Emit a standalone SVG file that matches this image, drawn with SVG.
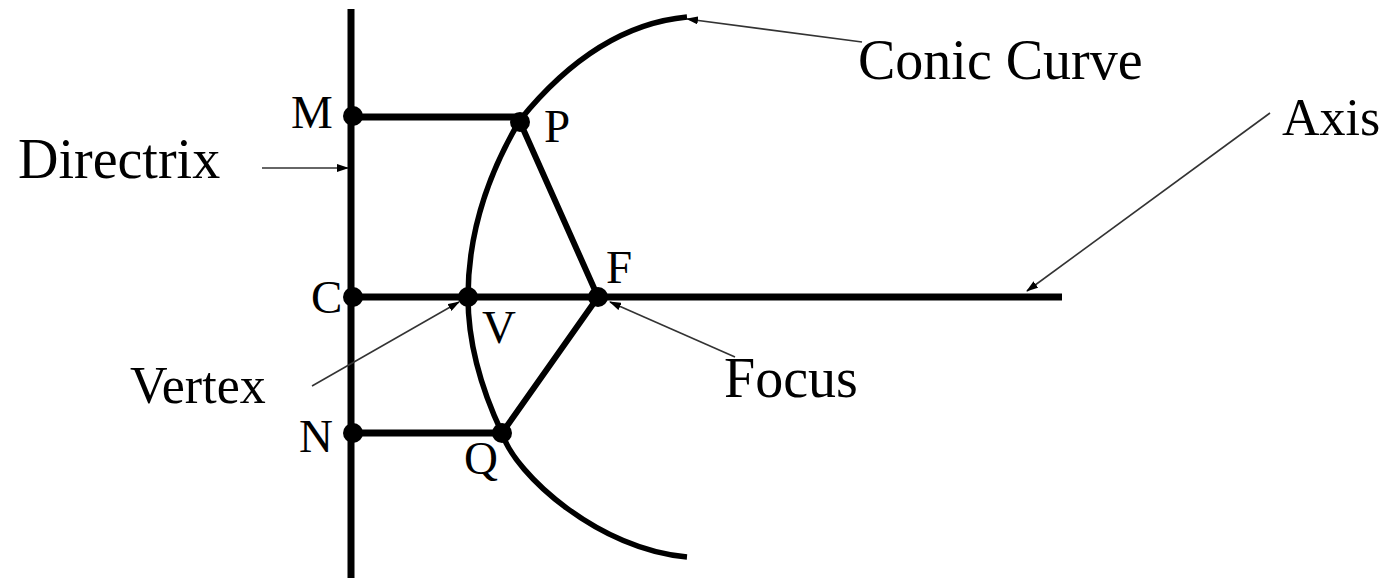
<svg xmlns="http://www.w3.org/2000/svg" width="1388" height="578" viewBox="0 0 1388 578">
<style>
.thick{stroke:#000;stroke-width:7;fill:none}
.med{stroke:#000;stroke-width:6;fill:none;stroke-linecap:round}
.curve{stroke:#000;stroke-width:5.5;fill:none}
.thin{stroke:#333;stroke-width:1.6;fill:none;marker-end:url(#ah)}
.pt{fill:#000}
.lbl{font-family:"Liberation Serif","Times New Roman",serif;font-size:56px;fill:#000}
.let{font-family:"Liberation Serif","Times New Roman",serif;font-size:47px;fill:#000}
</style>
<defs>
<marker id="ah" viewBox="0 0 12 8" refX="11" refY="4" markerWidth="12" markerHeight="8" markerUnits="userSpaceOnUse" orient="auto">
<path d="M0,0 L12,4 L0,8 Z" fill="#000"/>
</marker>
</defs>
<g id="connectors">
<line class="thick" x1="351" y1="9" x2="351" y2="578"/>
<line class="thick" x1="351" y1="297" x2="1062" y2="297"/>
<line class="thick" x1="353" y1="117" x2="520" y2="117"/>
<line class="thick" x1="353" y1="433" x2="502" y2="433"/>
<line class="med" x1="520" y1="122" x2="598" y2="297"/>
<line class="med" x1="502" y1="433" x2="598" y2="297"/>
<path class="curve" d="M687,17 Q596.5,25.5 520,120 Q468,207.5 468,297 Q468,361 502,433 C515,475 600,550 687,557"/>
<line class="thin" x1="862" y1="42" x2="687" y2="19"/>
<line class="thin" x1="262" y1="168" x2="348" y2="168"/>
<line class="thin" x1="1270" y1="113" x2="1027" y2="291"/>
<line class="thin" x1="312" y1="386" x2="459" y2="302"/>
<line class="thin" x1="735" y1="357" x2="610" y2="302"/>
</g>
<g id="M"><circle class="pt" cx="353" cy="116" r="10"/><text class="let" x="291" y="128">M</text></g>
<g id="P"><circle class="pt" cx="520" cy="122" r="10"/><text class="let" x="544" y="142">P</text></g>
<g id="C"><circle class="pt" cx="353" cy="297" r="10"/><text class="let" x="311" y="313">C</text></g>
<g id="V"><circle class="pt" cx="468" cy="297" r="10"/><text class="let" x="482" y="343">V</text></g>
<g id="F"><circle class="pt" cx="598" cy="297" r="10"/><text class="let" x="606" y="283">F</text></g>
<g id="N"><circle class="pt" cx="353" cy="433" r="10"/><text class="let" x="299" y="452">N</text></g>
<g id="Q"><circle class="pt" cx="502" cy="433" r="10"/><text class="let" x="464" y="474">Q</text></g>
<g id="Directrix"><text class="lbl" x="18" y="178">Directrix</text></g>
<g id="Vertex"><text class="lbl" x="130" y="403" style="font-size:52px">Vertex</text></g>
<g id="ConicCurve"><text class="lbl" x="858" y="79">Conic Curve</text></g>
<g id="Axis"><text class="lbl" x="1282" y="135" style="font-size:52px">Axis</text></g>
<g id="Focus"><text class="lbl" x="724" y="397">Focus</text></g>
</svg>
